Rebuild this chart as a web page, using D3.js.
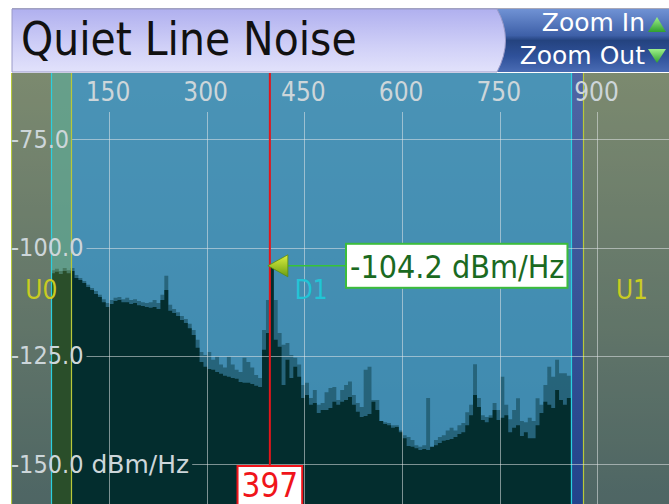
<!DOCTYPE html>
<html>
<head>
<meta charset="utf-8">
<script src="https://cdn.jsdelivr.net/npm/d3@7"></script>
<style>
  body { margin: 0; background: #fff; }
  svg text { font-family: 'DejaVu Sans Condensed', 'DejaVu Sans', sans-serif; font-stretch: condensed; }
  svg .btn { font-family: 'DejaVu Sans', sans-serif; font-stretch: normal; }
</style>
</head>
<body>
<div id="chart"></div>
<script>
// spectrum bins: first bin frequency and bin width (tone index units)
const freqStart = 61;
const freqStep = 6;

// current trace, dBm/Hz per bin
const currentDbm = [
  -105.9,-105.6,-106.1,-105.4,-105.9,-105.4,-107.0,-107.5,-108.2,-109.1,
  -109.8,-110.7,-111.4,-112.6,-113.7,-113.0,-112.3,-112.1,-112.6,-112.6,
  -113.0,-112.8,-113.3,-113.5,-113.7,-113.9,-113.7,-114.2,-112.1,-109.8,
  -114.6,-115.1,-115.8,-116.7,-117.4,-118.6,-120.2,-123.1,-126.4,-127.5,
  -128.0,-128.2,-128.7,-129.1,-129.6,-129.8,-130.1,-130.3,-131.0,-131.2,
  -131.2,-131.5,-131.9,-132.2,-123.6,-119.7,-104.2,-121.3,-122.9,-131.7,
  -125.9,-130.1,-127.5,-129.8,-134.7,-134.0,-136.3,-135.9,-138.2,-137.5,
  -137.5,-137.0,-135.6,-136.3,-135.6,-135.2,-134.5,-136.3,-137.9,-139.1,
  -138.9,-138.4,-135.6,-137.5,-140.0,-140.7,-141.0,-141.6,-141.4,-142.6,
  -144.0,-145.8,-146.0,-146.3,-146.7,-146.5,-146.7,-146.0,-145.6,-145.1,
  -144.6,-144.4,-144.2,-143.7,-143.0,-142.6,-141.0,-138.7,-134.0,-136.8,
  -139.8,-140.3,-139.3,-137.5,-139.8,-139.3,-138.7,-142.6,-141.6,-141.0,
  -143.5,-142.6,-144.0,-144.0,-141.0,-138.2,-135.6,-136.3,-137.0,-132.9,
  -135.2,-136.3,-134.7
];

// max hold trace, dBm/Hz per bin
const maxHoldDbm = [
  -105.2,-104.9,-105.4,-104.7,-105.2,-104.7,-106.3,-107.0,-107.7,-108.6,
  -109.3,-110.0,-110.9,-111.9,-112.8,-112.1,-111.6,-111.4,-111.9,-111.6,
  -112.1,-111.9,-112.3,-112.6,-112.8,-112.6,-112.1,-112.8,-110.9,-106.5,
  -113.2,-114.2,-114.9,-115.8,-116.5,-117.6,-119.0,-121.3,-124.1,-124.8,
  -124.1,-125.9,-125.2,-127.0,-127.7,-125.2,-127.0,-128.2,-128.7,-125.4,
  -126.4,-127.7,-129.4,-130.1,-119.0,-112.1,-104.2,-112.1,-119.7,-122.4,
  -122.0,-124.8,-125.4,-127.0,-131.7,-131.2,-134.7,-132.9,-136.3,-135.9,
  -133.4,-132.4,-132.2,-135.2,-132.9,-131.7,-130.9,-134.0,-135.9,-136.8,
  -128.2,-127.5,-135.2,-135.2,-140.0,-140.3,-140.5,-141.0,-141.0,-142.2,
  -143.3,-143.7,-144.4,-145.6,-146.0,-145.6,-134.7,-146.3,-144.4,-143.7,
  -143.3,-142.2,-141.6,-142.2,-141.0,-140.5,-138.0,-136.3,-126.9,-134.7,
  -138.7,-139.1,-138.7,-135.9,-137.5,-129.8,-136.3,-139.6,-137.5,-134.8,
  -140.0,-140.3,-139.3,-140.0,-134.8,-136.3,-131.7,-127.5,-129.8,-125.9,
  -129.0,-129.0,-129.6
];

const xTicks = [150, 300, 450, 600, 750, 900];
const yTicks = [-75, -100, -125, -150];
const yTickLabels = ['-75.0', '-100.0', '-125.0', '-150.0'];
const yUnit = 'dBm/Hz';

// upstream / downstream bands
const bandNames = ['U0', 'D1', 'U1'];
const bandFrom = [0, 61, 878];
const bandTo = [92, 860, 1028];

const cursorFreq = 397;
const markerDbm = -104.2;

const width = 669, height = 504;
const plot = {left: 11, top: 73, right: 669, bottom: 504};

const svg = d3.select('#chart').append('svg')
    .attr('width', width)
    .attr('height', height);

const defs = svg.append('defs');

function vGradient(id, stops) {
  const g = defs.append('linearGradient')
      .attr('id', id)
      .attr('x1', 0).attr('y1', 0).attr('x2', 0).attr('y2', 1);
  stops.forEach(s => g.append('stop').attr('offset', s[0]).attr('stop-color', s[1]));
}

vGradient('titleGrad', [[0, '#b0b0ef'], [0.6, '#d0d0f7'], [1, '#e2e2fb']]);
vGradient('zoomGrad', [[0, '#7092d4'], [0.42, '#3e60a8'], [0.5, '#24437f'], [0.75, '#2f519a'], [1, '#4a6cb4']]);
vGradient('bgGrad', [[0, '#4f66a4'], [1, '#22438b']]);
vGradient('upGrad', [[0, '#707c8a'], [1, '#334c7b']]);
vGradient('triUp', [[0, '#9ef08a'], [1, '#2f9f2f']]);
vGradient('triDown', [[0, '#9ef08a'], [1, '#2f9f2f']]);
vGradient('markGrad', [[0, '#dcf040'], [1, '#6c9e12']]);

// ---- header ----
svg.append('line')
    .attr('x1', 12).attr('x2', width)
    .attr('y1', 8.5).attr('y2', 8.5)
    .attr('stroke', '#a8a8b8');

svg.append('rect')
    .attr('x', 495).attr('y', 9)
    .attr('width', width - 495).attr('height', 63)
    .attr('fill', 'url(#zoomGrad)');

svg.append('path')
    .attr('d', 'M12,9 L497,9 Q514,40 497,72 L12,72 Z')
    .attr('fill', 'url(#titleGrad)')
    .attr('stroke', '#9a9ac8')
    .attr('stroke-width', 1);

svg.append('text')
    .attr('x', 21).attr('y', 55)
    .attr('font-size', 45.5)
    .attr('fill', '#111')
    .text('Quiet Line Noise');

svg.append('text')
    .attr('class', 'btn')
    .attr('x', 645).attr('y', 31)
    .attr('text-anchor', 'end')
    .attr('font-size', 25)
    .attr('fill', '#fff')
    .text('Zoom In');

svg.append('text')
    .attr('class', 'btn')
    .attr('x', 645).attr('y', 64)
    .attr('text-anchor', 'end')
    .attr('font-size', 25)
    .attr('fill', '#fff')
    .text('Zoom Out');

svg.append('path').attr('d', 'M657,17 L666,32 L648,32 Z').attr('fill', 'url(#triUp)');
svg.append('path').attr('d', 'M648,49 L666,49 L657,63 Z').attr('fill', 'url(#triDown)');

// ---- plot ----
const x = d3.scaleLinear().domain([0, 1000]).range([11.3, 662.6]);
const y = d3.scaleLinear().domain([-150, -75]).range([464.2, 139.3]);

defs.append('clipPath').attr('id', 'plotClip')
  .append('rect')
    .attr('x', plot.left).attr('y', plot.top)
    .attr('width', plot.right - plot.left).attr('height', plot.bottom - plot.top);

const g = svg.append('g').attr('clip-path', 'url(#plotClip)');

g.append('rect')
    .attr('x', plot.left).attr('y', plot.top)
    .attr('width', plot.right - plot.left).attr('height', plot.bottom - plot.top)
    .attr('fill', 'url(#bgGrad)');

const bands = bandNames.map((n, i) => ({name: n, from: bandFrom[i], to: bandTo[i], up: n[0] === 'U'}));

// upstream bands underneath
g.selectAll('.uband')
    .data(bands.filter(d => d.up))
  .enter().append('rect')
    .attr('class', 'uband')
    .attr('x', d => x(d.from))
    .attr('y', plot.top)
    .attr('width', d => x(d.to) - x(d.from))
    .attr('height', plot.bottom - plot.top)
    .attr('fill', 'url(#upGrad)');

// downstream band, translucent
g.selectAll('.dband')
    .data(bands.filter(d => !d.up))
  .enter().append('rect')
    .attr('class', 'dband')
    .attr('x', d => x(d.from))
    .attr('y', plot.top)
    .attr('width', d => x(d.to) - x(d.from))
    .attr('height', plot.bottom - plot.top)
    .attr('fill', '#49a6be')
    .attr('fill-opacity', 0.7);

function binPoints(vals) {
  const pts = vals.map((v, i) => ({f: freqStart + i * freqStep, v: v}));
  pts.push({f: freqStart + vals.length * freqStep, v: vals[vals.length - 1]});
  return pts;
}

const area = d3.area()
    .curve(d3.curveStepAfter)
    .x(d => x(d.f))
    .y0(plot.bottom)
    .y1(d => y(d.v));

g.append('path')
    .datum(binPoints(maxHoldDbm))
    .attr('d', area)
    .attr('fill', '#06333a')
    .attr('fill-opacity', 0.45);

g.append('path')
    .datum(binPoints(currentDbm))
    .attr('d', area)
    .attr('fill', '#032d2e');

// yellow tint of upstream bands on top
g.selectAll('.utint')
    .data(bands.filter(d => d.up))
  .enter().append('rect')
    .attr('class', 'utint')
    .attr('x', d => x(d.from))
    .attr('y', plot.top)
    .attr('width', d => x(d.to) - x(d.from))
    .attr('height', plot.bottom - plot.top)
    .attr('fill', '#a0b41e')
    .attr('fill-opacity', 0.25);

// band edges
const edges = [];
bands.forEach(b => {
  edges.push({f: b.from, up: b.up});
  edges.push({f: b.to, up: b.up});
});
g.selectAll('.edge')
    .data(edges)
  .enter().append('line')
    .attr('class', 'edge')
    .attr('x1', d => Math.round(x(d.f)) + 0.5)
    .attr('x2', d => Math.round(x(d.f)) + 0.5)
    .attr('y1', plot.top).attr('y2', plot.bottom)
    .attr('stroke', d => d.up ? '#b8c83a' : '#2ad0e0')
    .attr('stroke-width', 1.2);

const gridColor = 'rgba(226,230,232,0.55)';
const labelColor = '#cdd6da';

// vertical grid + top labels
g.selectAll('.vgrid')
    .data(xTicks)
  .enter().append('line')
    .attr('class', 'vgrid')
    .attr('x1', d => Math.round(x(d)) + 0.5)
    .attr('x2', d => Math.round(x(d)) + 0.5)
    .attr('y1', 112).attr('y2', plot.bottom)
    .attr('stroke', gridColor);

g.selectAll('.xlab')
    .data(xTicks)
  .enter().append('text')
    .attr('class', 'xlab')
    .attr('x', d => x(d) - 1)
    .attr('y', 101)
    .attr('text-anchor', 'middle')
    .attr('font-size', 26)
    .attr('fill', labelColor)
    .text(d => d);

// horizontal grid starts after each left label
const ylab = g.selectAll('.ylab')
    .data(yTicks)
  .enter().append('text')
    .attr('class', 'ylab')
    .attr('x', 11)
    .attr('y', d => y(d) + 8.5)
    .attr('font-size', 25)
    .attr('fill', labelColor)
    .text((d, i) => yTickLabels[i]);

// unit only on the lowest label
ylab.filter((d, i) => i === yTicks.length - 1)
  .append('tspan')
    .attr('class', 'btn')
    .attr('font-size', 25)
    .text(' ' + yUnit);

ylab.each(function(d) {
  const w = this.getComputedTextLength();
  g.append('line')
      .attr('x1', 11 + w + 3).attr('x2', plot.right)
      .attr('y1', Math.round(y(d)) + 0.5).attr('y2', Math.round(y(d)) + 0.5)
      .attr('stroke', gridColor);
});

// band names
g.selectAll('.bandlab')
    .data(bands)
  .enter().append('text')
    .attr('class', 'bandlab')
    .attr('x', d => x((d.from + d.to) / 2))
    .attr('y', 299)
    .attr('text-anchor', 'middle')
    .attr('font-size', 26)
    .attr('fill', d => d.up ? '#c9cc22' : '#22c4d6')
    .text(d => d.name);

// cursor
const cx = x(cursorFreq);
g.append('line')
    .attr('x1', cx).attr('x2', cx)
    .attr('y1', plot.top).attr('y2', 466)
    .attr('stroke', '#e3161b')
    .attr('stroke-width', 2);

const cursorLab = g.append('text')
    .attr('x', cx)
    .attr('y', 497)
    .attr('text-anchor', 'middle')
    .attr('font-size', 33)
    .attr('fill', '#f0141a')
    .text(cursorFreq);
const cw = cursorLab.node().getComputedTextLength();
g.insert('rect', function() { return cursorLab.node(); })
    .attr('x', cx - cw / 2 - 4).attr('y', 466)
    .attr('width', cw + 8).attr('height', 44)
    .attr('fill', '#fff')
    .attr('stroke', '#f0141a')
    .attr('stroke-width', 2);

// marker at cursor value
const my = y(markerDbm);
g.append('line')
    .attr('x1', cx + 18).attr('x2', 347)
    .attr('y1', my).attr('y2', my)
    .attr('stroke', '#37c437')
    .attr('stroke-width', 1.5);

g.append('path')
    .attr('d', `M${cx - 2},${my} L${cx + 18},${my - 11} L${cx + 18},${my + 11} Z`)
    .attr('fill', 'url(#markGrad)')
    .attr('stroke', '#5d8c10')
    .attr('stroke-width', 0.8);

const markLab = g.append('text')
    .attr('x', 350)
    .attr('y', my + 12)
    .attr('font-size', 32)
    .attr('fill', '#1b6a1f')
    .text(markerDbm.toFixed(1) + ' dBm/Hz');
const mw = markLab.node().getComputedTextLength();
g.insert('rect', function() { return markLab.node(); })
    .attr('x', 346).attr('y', my - 22)
    .attr('width', mw + 7).attr('height', 44)
    .attr('fill', '#fff')
    .attr('stroke', '#3cbc3c')
    .attr('stroke-width', 2);
</script>
</body>
</html>
